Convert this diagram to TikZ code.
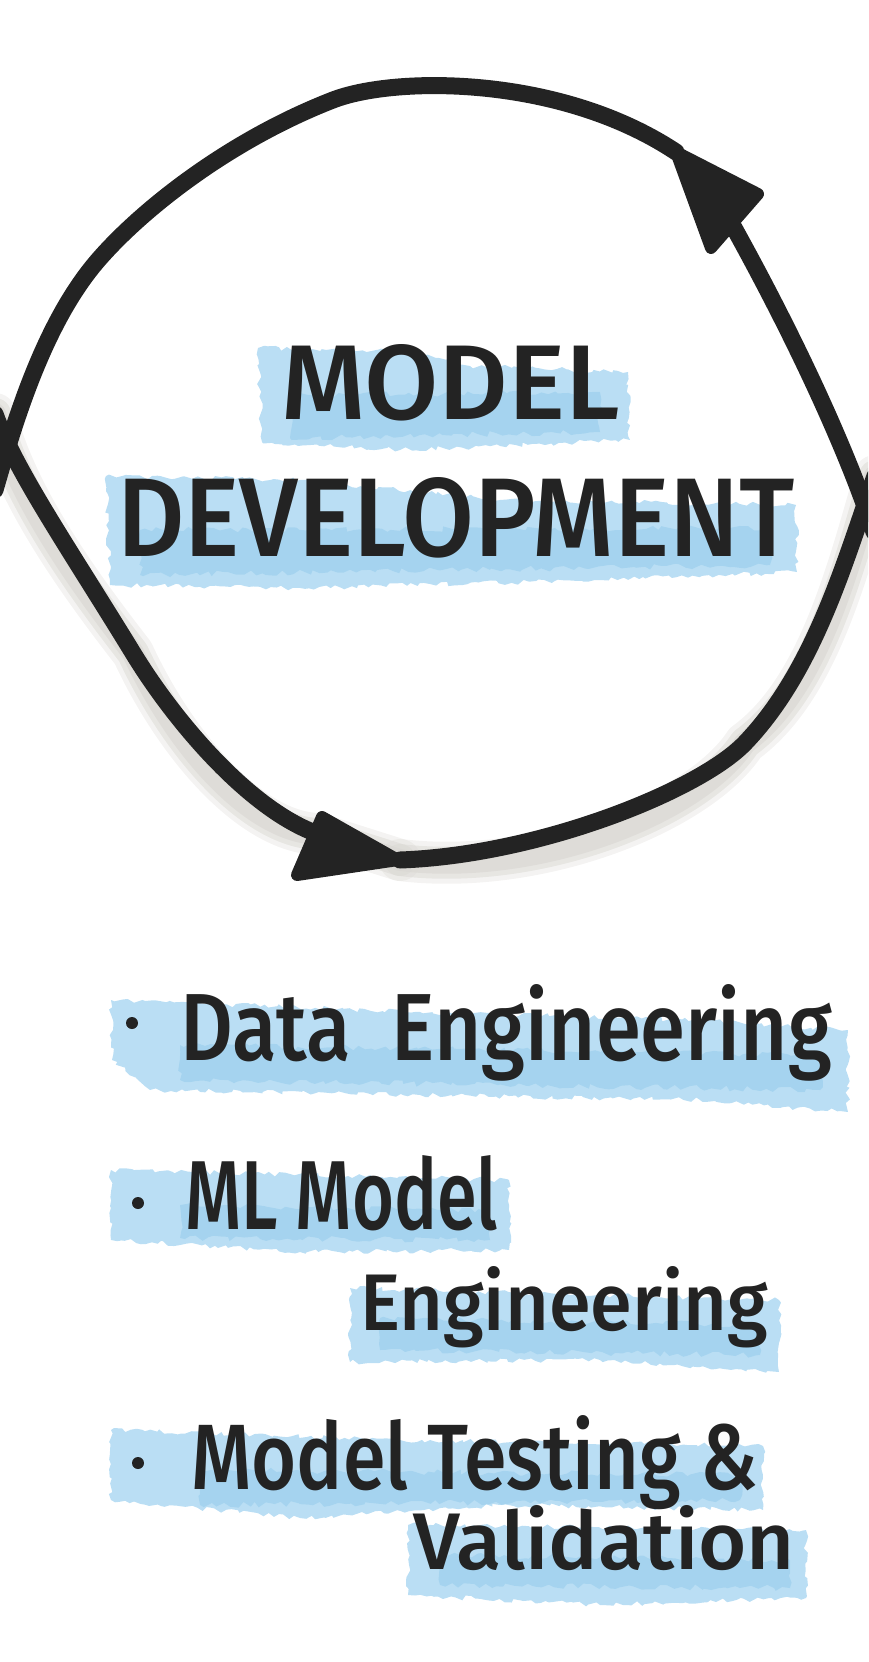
\documentclass[tikz,border=0pt]{standalone}
\usepackage{fontspec}
\setmainfont{Fira Sans}[BoldFont={Fira Sans Medium}]
\usetikzlibrary{decorations.pathmorphing}
\definecolor{ink}{HTML}{232323}
\definecolor{wash}{HTML}{A9D6F1}
\definecolor{washdeep}{HTML}{8CC8EB}
\definecolor{shade}{HTML}{DAD8D3}
\tikzset{
  pen/.style={draw=ink, line width=17, line cap=round, line join=round},
  headtip/.style={fill=ink, draw=ink, line width=12, line join=round},
  shadowline/.style={draw=shade, line cap=round, line join=round},
  washblob/.style={fill=wash, fill opacity=0.8, draw=none,
    decorate, decoration={random steps, segment length=5, amplitude=2.5}},
  washcore/.style={fill=washdeep, fill opacity=0.45, draw=none,
    decorate, decoration={random steps, segment length=6, amplitude=3}},
  hand/.style={inner sep=0, outer sep=0, anchor=base west, text=ink,
    font=\fontsize{100}{100}\selectfont\bfseries},
  dot/.style={circle, fill=ink, inner sep=0, minimum size=12},
}
\newcommand{\hw}[3]{\resizebox{#1pt}{#2pt}{#3}}
\begin{document}
\begin{tikzpicture}[x=1pt,y=-1pt]
\useasboundingbox (0,0) rectangle (868,1662);
\clip (0,0) rectangle (868,1662);

% end points of the strokes
\coordinate (topStart) at (-5,490);
\coordinate (topTip) at (676,152);
\coordinate (rightStart) at (728,217);
\coordinate (rightEnd) at (874,532);
\coordinate (lowStart) at (875,476);
\coordinate (lowMid) at (745,743);
\coordinate (bottomTip) at (400,860);
\coordinate (leftStart) at (-5,414);
\coordinate (leftMid) at (133,653);
\coordinate (leftEnd) at (318,834);

% soft grey shadow under the lower half of the cycle
\begin{scope}[shift={(0,22)}]
  \foreach \w/\o in {42/0.3, 32/0.5, 22/0.7}{
    \draw[shadowline, line width=\w, opacity=\o] (leftStart)
      .. controls (15,470) and (70,550) .. (leftMid)
      .. controls (175,722) and (250,810) .. (leftEnd) -- (bottomTip);
    \draw[shadowline, line width=\w, opacity=\o] (lowStart)
      .. controls (845,560) and (815,670) .. (lowMid)
      .. controls (700,790) and (540,855) .. (bottomTip);
  }
\end{scope}

% watercolour washes behind the lettering
\fill[washblob] (258,348) -- (420,352) -- (470,366) -- (628,372) -- (630,440) -- (500,446) -- (400,450) -- (262,442) -- cycle;
\fill[washcore] (290,395) -- (600,392) -- (600,432) -- (290,438) -- cycle;
\fill[washblob] (106,476) -- (300,480) -- (500,500) -- (796,505) -- (797,572) -- (600,580) -- (300,588) -- (110,585) -- cycle;
\fill[washcore] (140,530) -- (770,528) -- (770,565) -- (140,575) -- cycle;
\fill[washblob] (111,1000) -- (420,1012) -- (700,1020) -- (848,1030) -- (848,1112) -- (700,1100) -- (420,1095) -- (150,1090) -- (112,1060) -- cycle;
\fill[washcore] (180,1045) -- (820,1055) -- (820,1090) -- (180,1080) -- cycle;
\fill[washblob] (111,1170) -- (509,1180) -- (509,1250) -- (300,1252) -- (111,1240) -- cycle;
\fill[washcore] (180,1205) -- (490,1210) -- (490,1240) -- (180,1238) -- cycle;
\fill[washblob] (350,1288) -- (779,1300) -- (779,1372) -- (600,1360) -- (350,1362) -- cycle;
\fill[washcore] (380,1318) -- (760,1325) -- (760,1355) -- (380,1350) -- cycle;
\fill[washblob] (111,1430) -- (400,1440) -- (763,1446) -- (763,1510) -- (500,1505) -- (300,1518) -- (111,1500) -- cycle;
\fill[washcore] (200,1470) -- (740,1475) -- (740,1500) -- (200,1505) -- cycle;
\fill[washblob] (408,1525) -- (806,1530) -- (806,1598) -- (600,1605) -- (408,1595) -- cycle;
\fill[washcore] (440,1555) -- (790,1560) -- (790,1588) -- (440,1585) -- cycle;

% upper stroke, over the top to the arrow at the upper right
\draw[pen] (topStart)
  .. controls (15,420) and (45,320) .. (100,258)
  .. controls (144,208) and (230,140) .. (333,100)
  .. controls (395,76) and (560,75) .. (topTip);
% right stroke, running up into the upper arrow
\draw[pen] (rightStart) .. controls (780,310) and (840,430) .. (rightEnd);
% lower right stroke, sweeping round to the lower arrow
\draw[pen] (lowStart)
  .. controls (845,560) and (815,670) .. (lowMid)
  .. controls (700,790) and (540,855) .. (bottomTip);
% lower left stroke, running down into the lower arrow
\draw[pen] (leftStart)
  .. controls (15,470) and (70,550) .. (leftMid)
  .. controls (175,722) and (250,810) .. (leftEnd);

% arrow heads
\coordinate (ta) at (676,152);
\coordinate (tb) at (758,194);
\coordinate (tc) at (711,248);
\filldraw[headtip] (ta) -- (tb) -- (tc) -- cycle;
\coordinate (ba) at (322,817);
\coordinate (bb) at (297,875);
\coordinate (bc) at (398,860);
\filldraw[headtip] (ba) -- (bc) -- (bb) -- cycle;

% title
\node[hand] (model) at (281,419) {\hw{339}{75}{MODEL}};
\node[hand] (devel) at (117,556) {\hw{678}{79}{DEVELOPMENT}};

% bullet list
\node[dot] (b1) at (132,1023) {};
\node[hand] (l1) at (180,1060) {\hw{652}{76}{Data\ \ Engineering}};
\node[dot] (b2) at (138,1203) {};
\node[hand] (l2) at (185,1229) {\hw{313}{74}{ML Model}};
\node[hand] (l2b) at (360,1330) {\hw{408}{64}{Engineering}};
\node[dot] (b3) at (138,1463) {};
\node[hand] (l3) at (191,1489) {\hw{567}{74}{Model Testing \&}};
\node[hand] (l3b) at (413,1569) {\hw{382}{64}{Validation}};
\end{tikzpicture}
\end{document}
